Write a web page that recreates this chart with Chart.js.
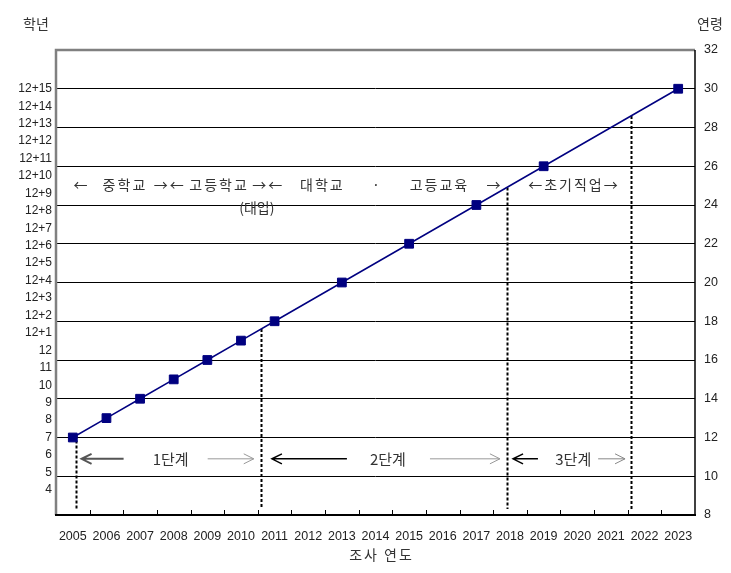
<!DOCTYPE html>
<html>
<head>
<meta charset="utf-8">
<script src="https://cdn.jsdelivr.net/npm/chart.js@4.4.0/dist/chart.umd.min.js"></script>
<style>
html,body{margin:0;padding:0;background:#fff}
#wrap{width:731px;height:573px}
</style>
</head>
<body>
<div id="wrap"><canvas id="c" width="731" height="573"></canvas></div>
<script>
// survey years on the x axis
var years = [2005,2006,2007,2008,2009,2010,2011,2012,2013,2014,2015,2016,2017,2018,2019,2020,2021,2022,2023];
// years that carry a marker, and the age of the cohort in that year
var surveyYears = [2005,2006,2007,2008,2009,2010,2011,2013,2015,2017,2019,2023];
var ages = [12,13,14,15,16,17,18,20,22,24,26,30];
// left axis (school grade) and right axis (age)
var gradeValues = [4,5,6,7,8,9,10,11,12,13,14,15,16,17,18,19,20,21,22,23,24,25,26,27];
var gradeLabels = ['4','5','6','7','8','9','10','11','12','12+1','12+2','12+3','12+4','12+5','12+6','12+7','12+8','12+9','12+10','12+11','12+12','12+13','12+14','12+15'];
var ageTicks = [8,10,12,14,16,18,20,22,24,26,28,30,32];
// stage boundaries (dotted lines)
var stageBounds = [2005.1, 2010.6, 2017.9, 2021.6];

var NAVY = '#000080';
var KR = '"Noto Sans CJK KR", sans-serif';
var NUM = '"Liberation Sans", Arial, sans-serif';

function ageOnLine(yr){
	for(var i=0;i<surveyYears.length-1;i++){
		if(yr>=surveyYears[i] && yr<=surveyYears[i+1]){
			var t=(yr-surveyYears[i])/(surveyYears[i+1]-surveyYears[i]);
			return ages[i]+t*(ages[i+1]-ages[i]);
		}
	}
	return ages[ages.length-1];
}

function arrow(ctx,x1,x2,y,dir,color,w){
	ctx.save();
	ctx.strokeStyle=color;
	ctx.lineWidth=w;
	ctx.beginPath();
	ctx.moveTo(x1,y);ctx.lineTo(x2,y);
	var tip = dir<0 ? x1 : x2;
	var s = dir<0 ? 1 : -1;
	ctx.moveTo(tip+s*10,y-5);ctx.lineTo(tip,y);ctx.lineTo(tip+s*10,y+5);
	ctx.stroke();
	ctx.restore();
}

var decor = {
	id:'decor',
	beforeDraw:function(chart){
		var ctx=chart.ctx;
		ctx.save();
		ctx.fillStyle='#fff';
		ctx.fillRect(0,0,chart.width,chart.height);
		ctx.restore();
	},
	beforeDatasetsDraw:function(chart){
		var ctx=chart.ctx, x=chart.scales.x, a=chart.scales.age, area=chart.chartArea;
		// dotted stage boundaries
		ctx.save();
		ctx.strokeStyle='#000';
		ctx.lineWidth=2;
		ctx.setLineDash([3,2]);
		stageBounds.forEach(function(b){
			var px=Math.round(x.getPixelForValue(b))+0.5;
			ctx.beginPath();
			ctx.moveTo(px,a.getPixelForValue(ageOnLine(b)));
			ctx.lineTo(px,area.bottom-6);
			ctx.stroke();
		});
		ctx.restore();

		// stage labels
		ctx.save();
		ctx.fillStyle='#333';
		ctx.textAlign='center';
		ctx.textBaseline='middle';
		ctx.font='14px '+KR;
		ctx.letterSpacing='2px';
		var row1=a.getPixelForValue(25.05);
		[['←',2005.26],['중학교',2006.55],['→←',2007.88],['고등학교',2009.35],['→←',2010.81],
		 ['대학교',2012.42],['·',2014.04],['고등교육',2015.9],['→',2017.54],['←초기직업→',2019.9]].forEach(function(t){
			ctx.fillText(t[0],x.getPixelForValue(t[1]),row1);
		});
		ctx.letterSpacing='0px';
		ctx.fillText('(대입)',x.getPixelForValue(2010.47),a.getPixelForValue(23.85));

		var row2=a.getPixelForValue(10.9);
		ctx.font='15px '+KR;
		[['1단계',2007.91],['2단계',2014.37],['3단계',2019.88]].forEach(function(t){
			ctx.fillText(t[0],x.getPixelForValue(t[1]),row2);
		});
		ctx.restore();
		var X=function(v){return x.getPixelForValue(v);};
		arrow(ctx,X(2005.26),X(2006.51),row2,-1,'#555',2);
		arrow(ctx,X(2009.01),X(2010.38),row2,1,'#999',1);
		arrow(ctx,X(2010.92),X(2013.15),row2,-1,'#000',1.5);
		arrow(ctx,X(2015.62),X(2017.7),row2,1,'#999',1);
		arrow(ctx,X(2018.09),X(2018.83),row2,-1,'#000',1.5);
		arrow(ctx,X(2020.62),X(2021.42),row2,1,'#888',1);
	},
	afterDraw:function(chart){
		var ctx=chart.ctx, x=chart.scales.x, area=chart.chartArea;
		ctx.save();
		// frame
		ctx.strokeStyle='#808080';
		ctx.lineWidth=2.5;
		ctx.beginPath();
		ctx.moveTo(area.left,area.bottom);ctx.lineTo(area.left,area.top);ctx.lineTo(area.right,area.top);
		ctx.stroke();
		ctx.strokeStyle='#000';
		ctx.lineWidth=1.5;
		ctx.beginPath();
		ctx.moveTo(area.right,area.top);ctx.lineTo(area.right,area.bottom);
		ctx.stroke();
		ctx.lineWidth=2;
		ctx.beginPath();
		ctx.moveTo(area.left-1,area.bottom);ctx.lineTo(area.right+1,area.bottom);
		ctx.stroke();
		// inner tick marks between the years
		ctx.lineWidth=1;
		ctx.beginPath();
		for(var i=0;i<years.length-1;i++){
			var px=Math.round(x.getPixelForValue(years[i]+0.5))+0.5;
			ctx.moveTo(px,area.bottom);ctx.lineTo(px,area.bottom-5);
		}
		ctx.stroke();
		// axis titles
		ctx.fillStyle='#333';
		ctx.textBaseline='middle';
		ctx.textAlign='center';
		ctx.font='14px '+KR;
		ctx.fillText('학년',36,24);
		ctx.fillText('연령',710,24);
		ctx.letterSpacing='2px';
		ctx.fillText('조사 연도',(area.left+area.right)/2+6,555);
		ctx.restore();
	}
};

var ctx = document.getElementById('c').getContext('2d');
var config = {
	type:'line',
	data:{
		datasets:[{
			label:'연령',
			data:surveyYears.map(function(y,i){return {x:y,y:ages[i]};}),
			yAxisID:'age',
			borderColor:NAVY,
			borderWidth:1.5,
			backgroundColor:NAVY,
			pointStyle:'rect',
			pointRadius:6.2,
			pointBorderWidth:1,
			pointBorderColor:NAVY,
			pointBackgroundColor:NAVY,
			tension:0
		}]
	},
	options:{
		responsive:false,
		animation:false,
		devicePixelRatio:1,
		layout:{padding:{top:50,left:0,right:0,bottom:0}},
		plugins:{legend:{display:false},tooltip:{enabled:false},title:{display:false}},
		scales:{
			x:{
				type:'linear',
				min:2004.5,max:2023.5,
				afterBuildTicks:function(s){s.ticks=years.map(function(v){return {value:v};});},
				afterFit:function(s){s.height=58;},
				grid:{display:false},
				border:{display:false},
				ticks:{autoSkip:false,maxRotation:0,padding:6,color:'#222',font:{family:NUM,size:12.5},
					callback:function(v){return String(v);}}
			},
			grade:{
				type:'linear',
				position:'left',
				min:23/9,max:263/9,
				afterBuildTicks:function(s){s.ticks=gradeValues.map(function(v){return {value:v};});},
				afterFit:function(s){s.width=56;},
				grid:{display:false,drawTicks:false},
				border:{display:false},
				ticks:{autoSkip:false,padding:4,color:'#222',font:{family:NUM,size:12},
					callback:function(v,i){return gradeLabels[i];}}
			},
			age:{
				type:'linear',
				position:'right',
				min:8,max:32,
				afterBuildTicks:function(s){s.ticks=ageTicks.map(function(v){return {value:v};});},
				afterFit:function(s){s.width=36;},
				grid:{drawTicks:false,lineWidth:1,
					color:function(c){return (c.tick && (c.tick.value===8||c.tick.value===32))?'rgba(0,0,0,0)':'#000';}},
				border:{display:false},
				ticks:{autoSkip:false,padding:9,color:'#222',font:{family:NUM,size:12.5}}
			}
		}
	},
	plugins:[decor]
};
var chart = new Chart(ctx,config);
</script>
</body>
</html>
